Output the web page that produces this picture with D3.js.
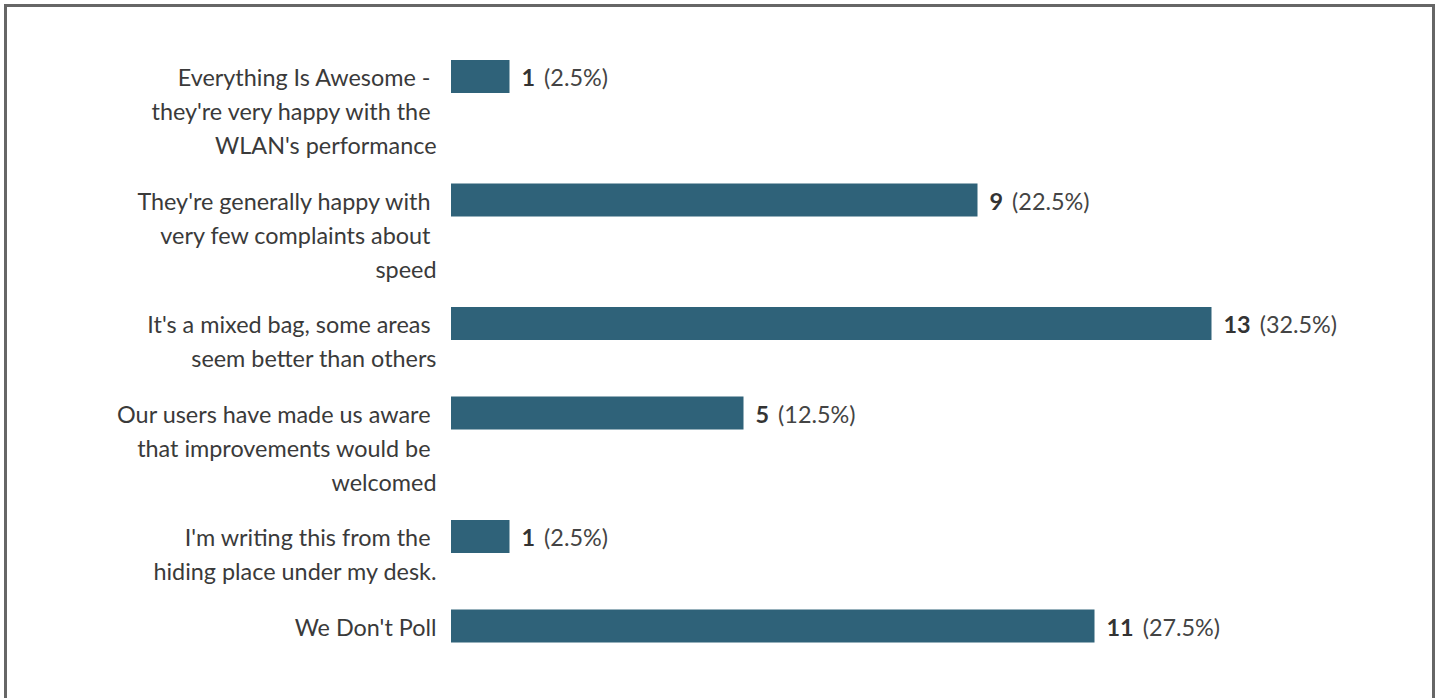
<!DOCTYPE html>
<html>
<head>
<meta charset="utf-8">
<script src="https://cdn.jsdelivr.net/npm/d3@7"></script>
<style>
  html, body { margin: 0; padding: 0; background: #fff; }
  body { width: 1440px; height: 698px; overflow: hidden; }
  .frame { position: absolute; left: 4px; top: 4px; width: 1431px; height: 720px;
           border: 3px solid #666; box-sizing: border-box; border-bottom: none; }
  svg { position: absolute; left: 0; top: 0; }
  text { font-family: Lato, "Open Sans", sans-serif; font-size: 23.4px; white-space: pre; }
</style>
</head>
<body>
<div class="frame"></div>
<div id="chart"></div>
<script>
// answers, split into the lines they wrap to
var labels = [
  ["Everything Is Awesome -", "they're very happy with the", "WLAN's performance"],
  ["They're generally happy with", "very few complaints about", "speed"],
  ["It's a mixed bag, some areas", "seem better than others"],
  ["Our users have made us aware", "that improvements would be", "welcomed"],
  ["I'm writing this from the", "hiding place under my desk."],
  ["We Don't Poll"]
];
var counts = [1, 9, 13, 5, 1, 11];

var width = 1440, height = 698;
var lineH = 34, rowPad = 21.5, barH = 33, top0 = 60;
var left = 451, labelRight = 436.5;

var total = d3.sum(counts);

// row tops depend on how many lines each label wraps to
var tops = [];
var acc = top0;
labels.forEach(function (l) {
  tops.push(acc);
  acc += l.length * lineH + rowPad;
});

var x = d3.scaleLinear()
  .domain([0, d3.max(counts)])
  .range([0, 760.5]);

var svg = d3.select("#chart")
  .append("svg")
  .attr("width", width)
  .attr("height", height);

var rows = svg.selectAll("g.row")
  .data(counts)
  .enter()
  .append("g")
  .attr("class", "row")
  .attr("transform", function (d, i) { return "translate(0," + tops[i] + ")"; });

rows.append("rect")
  .attr("x", left)
  .attr("y", 0)
  .attr("width", function (d) { return x(d); })
  .attr("height", barH)
  .attr("fill", "#2f6279");

// wrapped lines keep their trailing space, like the browser wrap did
rows.append("text")
  .attr("text-anchor", "end")
  .attr("fill", "#3a3a3a")
  .selectAll("tspan")
  .data(function (d, i) {
    var l = labels[i];
    return l.map(function (s, j) { return j < l.length - 1 ? s + " " : s; });
  })
  .enter()
  .append("tspan")
  .attr("x", labelRight)
  .attr("y", function (d, j) { return 26 + j * lineH; })
  .text(function (d) { return d; });

var val = rows.append("text")
  .attr("x", function (d) { return left + x(d) + 12; })
  .attr("y", 26);

val.append("tspan")
  .attr("font-weight", "bold")
  .attr("fill", "#333")
  .text(function (d) { return d; });

val.append("tspan")
  .attr("dx", 9)
  .attr("fill", "#444")
  .text(function (d) { return "(" + d3.format(".1f")(d / total * 100) + "%)"; });
</script>
</body>
</html>
